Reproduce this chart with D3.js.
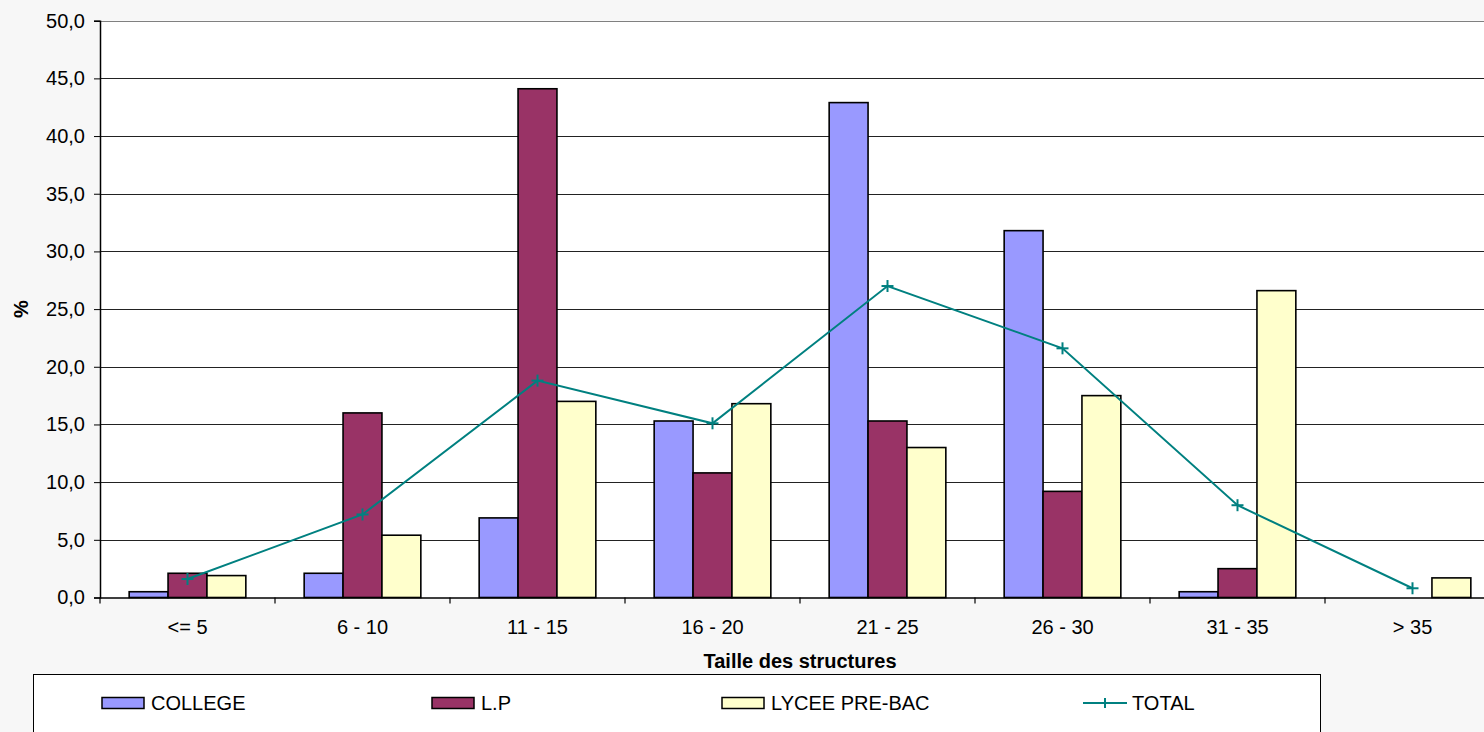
<!DOCTYPE html>
<html><head><meta charset="utf-8">
<script src="https://cdn.jsdelivr.net/npm/d3@7/dist/d3.min.js"></script>
<style>
html,body{margin:0;padding:0;background:#f7f7f7;overflow:hidden;}
svg{display:block;font-family:"Liberation Sans",Arial,sans-serif;}
</style></head>
<body>
<svg id="c" width="1484" height="732"></svg>
<script>
const categories = ["<= 5","6 - 10","11 - 15","16 - 20","21 - 25","26 - 30","31 - 35","> 35"];
const seriesNames = ["COLLEGE","L.P","LYCEE PRE-BAC"];
const college = [0.5, 2.1, 6.9, 15.3, 42.9, 31.8, 0.5, 0];
const lp      = [2.1, 16.0, 44.1, 10.8, 15.3, 9.2, 2.5, 0];
const lycee   = [1.9, 5.4, 17.0, 16.8, 13.0, 17.5, 26.6, 1.7];
const total   = [1.6, 7.2, 18.8, 15.1, 27.0, 21.6, 8.0, 0.8];
const yTicks  = [0,5,10,15,20,25,30,35,40,45,50];
const colors  = {"COLLEGE":"#9999FF","L.P":"#993366","LYCEE PRE-BAC":"#FFFFCC","TOTAL":"#008080"};

const svg = d3.select("#c");
const L = 100, R = 1500, T = 20.7, B = 597.5;

const x0 = d3.scaleBand().domain(categories).range([L, R]).paddingInner(0).paddingOuter(0);
const x1 = d3.scaleBand().domain(seriesNames).range([0, x0.bandwidth()]).paddingInner(0).paddingOuter(0.75);
const y = d3.scaleLinear().domain([0, 50]).range([B, T]);

// plot background
svg.append("rect").attr("x", L).attr("y", T).attr("width", R - L).attr("height", B - T).attr("fill", "#fff");

// gridlines
svg.append("g").selectAll("line").data(yTicks.filter(d => d > 0)).join("line")
  .attr("x1", L).attr("x2", R)
  .attr("y1", d => Math.round(y(d)) + 0.5).attr("y2", d => Math.round(y(d)) + 0.5)
  .attr("stroke", d => d === 50 ? "#808080" : "#222").attr("stroke-width", 1);

// y axis
const yAxis = d3.axisLeft(y).tickValues(yTicks).tickSize(6).tickPadding(9)
  .tickFormat(d => d3.format(".1f")(d).replace(".", ","));
const gy = svg.append("g").attr("transform", `translate(${L},0)`).call(yAxis);
gy.select(".domain").attr("stroke", "#000").attr("stroke-width", 1.5);
gy.selectAll(".tick line").attr("stroke", "#000");
gy.selectAll(".tick text").attr("font-size", 20).attr("fill", "#000")
  .attr("font-family", "Liberation Sans, Arial, sans-serif");

// bars
const seriesData = [college, lp, lycee];
const gBars = svg.append("g");
seriesNames.forEach((s, si) => {
  gBars.selectAll(null).data(seriesData[si].map((v, i) => ({c: categories[i], v})))
    .join("rect")
    .filter(d => d.v > 0)
    .attr("x", d => x0(d.c) + x1(s))
    .attr("width", x1.bandwidth())
    .attr("y", d => y(d.v))
    .attr("height", d => y(0) - y(d.v))
    .attr("fill", colors[s]).attr("stroke", "#000").attr("stroke-width", 1.6);
});

// x axis
const xAxis = d3.axisBottom(x0).tickSize(0).tickPadding(22);
const gx = svg.append("g").attr("transform", `translate(0,${B})`).call(xAxis);
gx.select(".domain").attr("stroke", "#000").attr("stroke-width", 1.5);
gx.selectAll(".tick text").attr("font-size", 20).attr("fill", "#000")
  .attr("font-family", "Liberation Sans, Arial, sans-serif");
// boundary ticks
svg.append("g").selectAll("line").data(categories.concat(["__end"])).join("line")
  .attr("x1", (d, i) => L + i * x0.step()).attr("x2", (d, i) => L + i * x0.step())
  .attr("y1", B).attr("y2", B + 6).attr("stroke", "#000").attr("stroke-width", 1.2);

// total line
const cx = c => x0(c) + x0.bandwidth() / 2;
const line = d3.line().x((d, i) => cx(categories[i])).y(d => y(d));
svg.append("path").datum(total).attr("d", line).attr("fill", "none")
  .attr("stroke", colors.TOTAL).attr("stroke-width", 2);
const m = 6;
const gm = svg.append("g").attr("stroke", colors.TOTAL).attr("stroke-width", 2);
total.forEach((v, i) => {
  const px = cx(categories[i]), py = y(v);
  gm.append("line").attr("x1", px - m).attr("x2", px + m).attr("y1", py).attr("y2", py);
  gm.append("line").attr("x1", px).attr("x2", px).attr("y1", py - m).attr("y2", py + m);
});

// axis titles
svg.append("text").attr("x", (L + R) / 2).attr("y", 668).attr("text-anchor", "middle")
  .attr("font-size", 20).attr("font-weight", "bold").text("Taille des structures");
svg.append("text").attr("transform", `translate(28,${(T + B) / 2}) rotate(-90)`)
  .attr("text-anchor", "middle").attr("font-size", 20).attr("font-weight", "bold").text("%");

// legend
svg.append("rect").attr("x", 33.5).attr("y", 674.5).attr("width", 1287).attr("height", 80)
  .attr("fill", "#fff").attr("stroke", "#000").attr("stroke-width", 1);
const legendItems = [
  {name: "COLLEGE", x: 102},
  {name: "L.P", x: 432},
  {name: "LYCEE PRE-BAC", x: 722},
  {name: "TOTAL", x: 1083}
];
const ly = 703;
legendItems.forEach(it => {
  if (it.name === "TOTAL") {
    svg.append("line").attr("x1", it.x).attr("x2", it.x + 44).attr("y1", ly).attr("y2", ly)
      .attr("stroke", colors.TOTAL).attr("stroke-width", 2);
    svg.append("line").attr("x1", it.x + 22 - 5).attr("x2", it.x + 22 + 5).attr("y1", ly).attr("y2", ly)
      .attr("stroke", colors.TOTAL).attr("stroke-width", 2);
    svg.append("line").attr("x1", it.x + 22).attr("x2", it.x + 22).attr("y1", ly - 5).attr("y2", ly + 5)
      .attr("stroke", colors.TOTAL).attr("stroke-width", 2);
  } else {
    svg.append("rect").attr("x", it.x).attr("y", ly - 5.5).attr("width", 42).attr("height", 11)
      .attr("fill", colors[it.name]).attr("stroke", "#000").attr("stroke-width", 1.5);
  }
  svg.append("text").attr("x", it.x + 49).attr("y", ly).attr("dy", "0.35em")
    .attr("font-size", 20).attr("fill", "#000").text(it.name);
});
</script>
</body></html>
